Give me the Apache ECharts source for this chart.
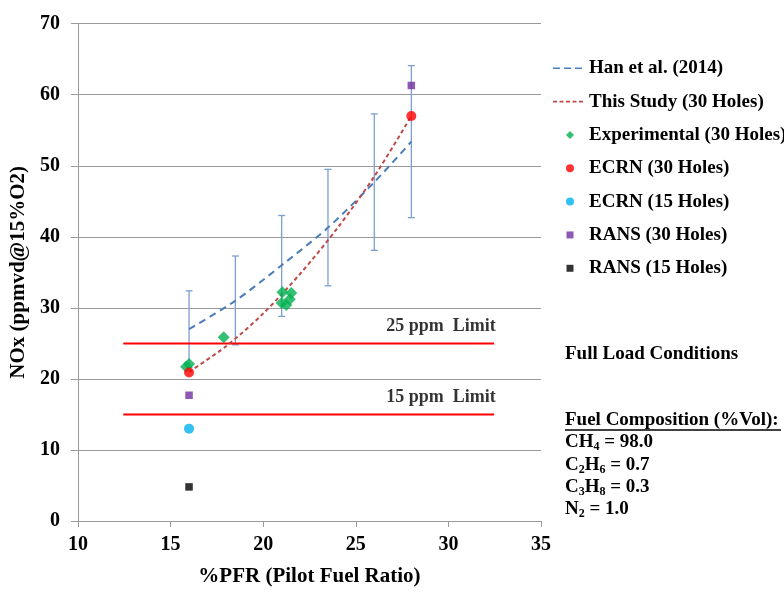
<!DOCTYPE html>
<html>
<head>
<meta charset="utf-8">
<script src="https://cdn.jsdelivr.net/npm/echarts@6/dist/echarts.min.js"></script>
<style>html,body{margin:0;padding:0;background:#fff}#c{width:784px;height:592px}</style>
</head>
<body>
<div id="c"></div>
<script>
// ---- data ----
const xTicks = [10, 15, 20, 25, 30, 35];
const yTicks = [0, 10, 20, 30, 40, 50, 60, 70];

const hanX = [16, 18.5, 21, 23.5, 26, 28];
const hanY = [27, 31, 36, 41.3, 47.7, 53.4];
const hanLow = [21.6, 24.8, 28.8, 33.1, 38.1, 42.7];
const hanHigh = [32.4, 37.3, 43.0, 49.5, 57.3, 64.1];

const studyX = [16, 18, 20, 22, 24, 26, 28];
const studyY = [21, 24.6, 29.2, 34.8, 41.2, 48.5, 57];

const expX = [15.84, 16.0, 17.87, 21.04, 21.52, 21.44, 21.0, 21.25];
const expY = [21.7, 22.1, 25.85, 32.2, 32.1, 31.2, 30.7, 30.4];

const ecrn30X = [16, 28];
const ecrn30Y = [20.9, 57];
const ecrn15X = [16];
const ecrn15Y = [13];
const rans30X = [16, 28];
const rans30Y = [17.7, 61.3];
const rans15X = [16];
const rans15Y = [4.8];

const limitX = [12.45, 32.47];
const limitLevels = [25, 15];
const limitLabels = ['25 ppm  Limit', '15 ppm  Limit'];
const limitLabelX = 29.6;

const zip = (xs, ys) => xs.map((x, i) => [x, ys[i]]);

const FONT = '"Liberation Serif", "Times New Roman", serif';

const chart = echarts.init(document.getElementById('c'), null, {renderer: 'canvas'});

const series = [];

// error bars on Han et al.
series.push({
  type: 'custom',
  name: 'errbar',
  silent: true,
  z: 2,
  data: hanX.map((x, i) => [x, hanLow[i], hanHigh[i]]),
  renderItem: function (params, api) {
    const x = api.value(0);
    const lo = api.coord([x, api.value(1)]);
    const hi = api.coord([x, api.value(2)]);
    const st = {stroke: '#7C9FD3', lineWidth: 1.3};
    const w = 3.5;
    return {
      type: 'group',
      children: [
        {type: 'line', shape: {x1: lo[0], y1: lo[1], x2: hi[0], y2: hi[1]}, style: st},
        {type: 'line', shape: {x1: lo[0] - w, y1: lo[1], x2: lo[0] + w, y2: lo[1]}, style: st},
        {type: 'line', shape: {x1: hi[0] - w, y1: hi[1], x2: hi[0] + w, y2: hi[1]}, style: st}
      ]
    };
  }
});

series.push({
  type: 'line', name: 'Han et al. (2014)', data: zip(hanX, hanY), smooth: 0.3,
  symbol: 'none', z: 3,
  lineStyle: {color: '#4A7EBB', width: 2, type: [7, 5]},
  itemStyle: {color: '#4A7EBB'}
});
series.push({
  type: 'line', name: 'This Study (30 Holes)', data: zip(studyX, studyY), smooth: 0.3,
  symbol: 'none', z: 3,
  lineStyle: {color: '#BE4B48', width: 2, type: [4, 3]},
  itemStyle: {color: '#BE4B48'}
});
series.push({
  type: 'scatter', name: 'Experimental (30 Holes)', data: zip(expX, expY),
  symbol: 'diamond', symbolSize: 12, z: 5, itemStyle: {color: '#00B050'}
});
series.push({
  type: 'scatter', name: 'ECRN (30 Holes)', data: zip(ecrn30X, ecrn30Y),
  symbol: 'circle', symbolSize: 10, z: 6, itemStyle: {color: '#FF0000'}
});
series.push({
  type: 'scatter', name: 'ECRN (15 Holes)', data: zip(ecrn15X, ecrn15Y),
  symbol: 'circle', symbolSize: 10, z: 6, itemStyle: {color: '#00B0F0'}
});
series.push({
  type: 'scatter', name: 'RANS (30 Holes)', data: zip(rans30X, rans30Y),
  symbol: 'rect', symbolSize: 7.5, z: 6, itemStyle: {color: '#7030A0'}
});
series.push({
  type: 'scatter', name: 'RANS (15 Holes)', data: zip(rans15X, rans15Y),
  symbol: 'rect', symbolSize: 7.5, z: 6, itemStyle: {color: '#000000'}
});

// limit lines
limitLevels.forEach((lv, i) => {
  series.push({
    type: 'line', name: 'limit' + lv, data: limitX.map(x => [x, lv]),
    symbol: 'none', z: 2, silent: true,
    lineStyle: {color: '#FF0000', width: 2}
  });
  series.push({
    type: 'scatter', name: 'limitlabel' + lv, data: [[limitLabelX, lv]],
    symbolSize: 0, silent: true,
    label: {
      show: true, position: 'top', distance: 8, formatter: limitLabels[i],
      fontFamily: FONT, fontWeight: 'bold', fontSize: 18, color: '#000'
    }
  });
});

const BOX = 'M0 0M31 12';
const legendData = [
  {name: 'Han et al. (2014)', icon: 'path://' + BOX + 'M0 5.2h7v1.6h-7zM11 5.2h7v1.6h-7zM22 5.2h7v1.6h-7z'},
  {name: 'This Study (30 Holes)', icon: 'path://' + BOX + 'M0 5.2h4v1.6h-4zM6.5 5.2h4v1.6h-4zM13 5.2h4v1.6h-4zM19.5 5.2h4v1.6h-4zM26 5.2h4v1.6h-4z'},
  {name: 'Experimental (30 Holes)', icon: 'path://' + BOX + 'M17 2L21 6L17 10L13 6Z'},
  {name: 'ECRN (30 Holes)', icon: 'path://' + BOX + 'M13 6a4 4 0 1 0 8 0a4 4 0 1 0 -8 0Z'},
  {name: 'ECRN (15 Holes)', icon: 'path://' + BOX + 'M13 6a4 4 0 1 0 8 0a4 4 0 1 0 -8 0Z'},
  {name: 'RANS (30 Holes)', icon: 'path://' + BOX + 'M13.5 2.5h7v7h-7Z'},
  {name: 'RANS (15 Holes)', icon: 'path://' + BOX + 'M13.5 2.5h7v7h-7Z'}
];

const sub = {n: {font: 'bold 19px ' + FONT, fill: '#000'}, s: {font: 'bold 12px ' + FONT, fill: '#000', padding: [9, 0, 0, 0]}};

const option = {
  backgroundColor: '#fff',
  animation: false,
  grid: {left: 77.7, right: 243, top: 23.7, bottom: 64.3, containLabel: false},
  xAxis: {
    type: 'value', min: 10, max: 35, interval: 5,
    name: '%PFR (Pilot Fuel Ratio)', nameLocation: 'middle', nameGap: 45,
    nameTextStyle: {fontFamily: FONT, fontWeight: 'bold', fontSize: 21, color: '#000'},
    axisLine: {show: true, lineStyle: {color: '#9A9A9A', width: 1}},
    axisTick: {show: true, length: 6, lineStyle: {color: '#9A9A9A'}},
    axisLabel: {fontFamily: FONT, fontWeight: 'bold', fontSize: 20, color: '#000', margin: 14},
    splitLine: {show: false}
  },
  yAxis: {
    type: 'value', min: 0, max: 70, interval: 10,
    name: 'NOx (ppmvd@15%O2)', nameLocation: 'middle', nameGap: 43, nameRotate: 90,
    nameTextStyle: {fontFamily: FONT, fontWeight: 'bold', fontSize: 21, color: '#000'},
    axisLine: {show: true, lineStyle: {color: '#9A9A9A', width: 1}},
    axisTick: {show: true, length: 7, lineStyle: {color: '#9A9A9A'}},
    axisLabel: {fontFamily: FONT, fontWeight: 'bold', fontSize: 20, color: '#000', margin: 18},
    splitLine: {show: true, lineStyle: {color: '#9A9A9A', width: 1}}
  },
  legend: {
    orient: 'vertical', left: 548, top: 53.3,
    itemWidth: 31, itemHeight: 12, itemGap: 13.33,
    symbolKeepAspect: false,
    data: legendData,
    textStyle: {fontFamily: FONT, fontWeight: 'bold', fontSize: 19, color: '#000', lineHeight: 20},
    selectedMode: false
  },
  graphic: [
    {type: 'text', left: 565, top: 344.5, style: {text: 'Full Load Conditions', font: 'bold 19px ' + FONT, fill: '#000'}},
    {type: 'text', left: 565, top: 411, style: {text: 'Fuel Composition (%Vol):', font: 'bold 19px ' + FONT, fill: '#000'}},
    {type: 'line', shape: {x1: 565, y1: 430, x2: 781, y2: 430}, style: {stroke: '#000', lineWidth: 1.4}},
    {type: 'text', left: 565, top: 432.5, style: {text: '{n|CH}{s|4}{n| = 98.0}', rich: sub}},
    {type: 'text', left: 565, top: 456, style: {text: '{n|C}{s|2}{n|H}{s|6}{n| = 0.7}', rich: sub}},
    {type: 'text', left: 565, top: 477.5, style: {text: '{n|C}{s|3}{n|H}{s|8}{n| = 0.3}', rich: sub}},
    {type: 'text', left: 565, top: 499.5, style: {text: '{n|N}{s|2}{n| = 1.0}', rich: sub}}
  ],
  series: series
};
chart.setOption(option);
</script>
</body>
</html>
